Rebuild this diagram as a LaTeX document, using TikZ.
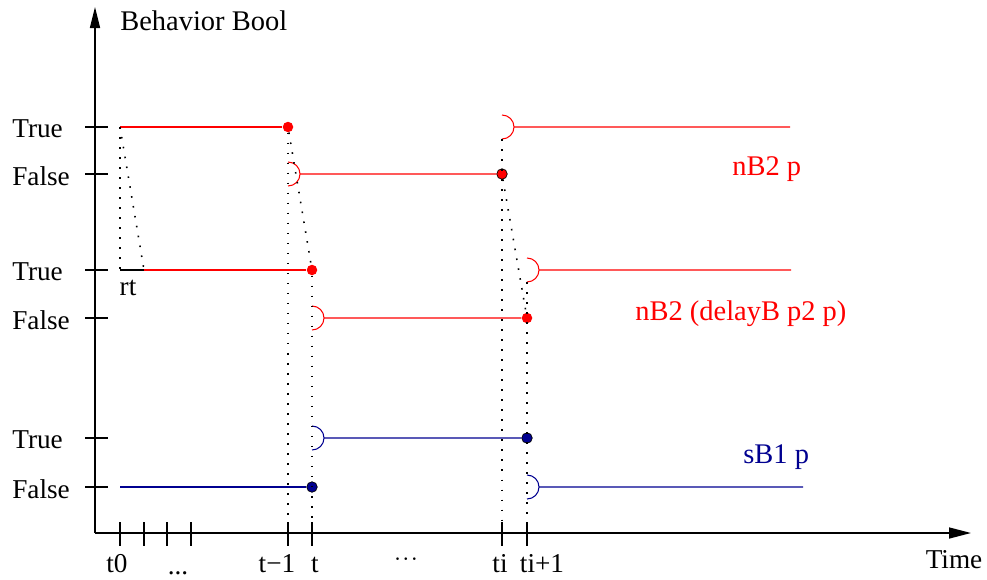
\documentclass[tikz,border=0pt]{standalone}
\usepackage{fontspec}
\setmainfont{Liberation Serif}
\usepackage{tikz}
\usetikzlibrary{shapes,arrows,arrows.meta}
\definecolor{sigred}{RGB}{255,0,0}
\definecolor{sigblue}{RGB}{0,0,144}
\tikzset{
    axisline/.style={line width=0.85pt},
    tickline/.style={line width=0.7pt},
    sig/.style={line width=0.6pt},
    jump/.style={line width=0.9pt, dash pattern=on 0.9pt off 4.8pt},
    fulldot/.style={circle, inner sep=0pt, minimum size=0.21cm},
    lbl/.style={inner sep=0pt, font=\fontsize{15.5}{18}\selectfont},
    signame/.style={inner sep=0pt, font=\fontsize{16.2}{19}\selectfont}
}

\begin{document}
\begin{tikzpicture}[x=0.02cm, y=-0.02cm]
    \useasboundingbox (0,0) rectangle (987,579);
    \coordinate (origin) at (95,533);
    \coordinate (ytop) at (95,7);
    \coordinate (xend) at (971,533);
    \draw[axisline, -{Triangle[length=0.42cm, width=0.2cm]}] (origin) -- (ytop);
    \draw[axisline, -{Triangle[length=0.44cm, width=0.22cm]}] (origin) -- (xend);
    \node[signame, anchor=base west] (ylabel) at (120,30) {Behavior Bool};
    \node[lbl, anchor=base] (xlabel) at (954,568) {Time};

    \foreach \y/\t in {127/True,174/False,270/True,318/False,438/True,487/False} {
        \draw[tickline] (85,\y) -- (108,\y);
        \node[lbl, anchor=west] (v\y) at (12,{\y+2}) {\t};
    }
    \foreach \x in {120,144,167,191,288,312,502,527}
        \draw[tickline] (\x,522) -- (\x,546);
    \node[lbl, anchor=base] (lt0) at (117,572) {t0};
    \node[lbl, anchor=base] (ldots) at (178,574) {...};
    \node[lbl, anchor=base] (ltm) at (277,572) {t−1};
    \node[lbl, anchor=base] (lt) at (315,572) {t};
    \node[lbl] (lcdots) at (406,560) {$\cdot\!\cdot\!\cdot$};
    \node[lbl, anchor=base] (lti) at (500,572) {ti};
    \node[lbl, anchor=base] (ltj) at (542,572) {ti+1};

    \coordinate (ktm) at (288,522);
    \coordinate (kt) at (312,522);
    \coordinate (kti) at (502,522);
    \coordinate (ktj) at (527,522);

    \coordinate (nTa) at (120,127);
    \node[fulldot, fill=sigred] (nTb) at (288,127) {};
    \coordinate (nTo) at (502,139);
    \coordinate (nTc) at (514,127);
    \coordinate (nTd) at (790,127);
    \draw[sig, sigred] (nTa) -- (nTb);
    \draw[sig, sigred] (nTd) -- (nTc) arc[start angle=0, end angle=90, radius=12] (nTc) arc[start angle=0, end angle=-90, radius=12];

    \coordinate (nFa) at (300,174);
    \node[fulldot, fill=sigred, draw=black, line width=0.4pt] (nFb) at (502,174) {};
    \draw[sig, sigred] (nFb) -- (nFa) arc[start angle=0, end angle=90, radius=12] (nFa) arc[start angle=0, end angle=-90, radius=12];

    \coordinate (dTa) at (120,270);
    \coordinate (dTb) at (144,270);
    \node[fulldot, fill=sigred] (dTc) at (312,270) {};
    \coordinate (dTo) at (527,282);
    \coordinate (dTd) at (539,270);
    \coordinate (dTe) at (791,270);
    \draw[sig] (dTa) -- (dTb);
    \draw[sig, sigred] (dTb) -- (dTc);
    \draw[sig, sigred] (dTe) -- (dTd) arc[start angle=0, end angle=90, radius=12] (dTd) arc[start angle=0, end angle=-90, radius=12];
    \node[lbl, anchor=base] (rt) at (128,295) {rt};

    \coordinate (dFa) at (324,318);
    \node[fulldot, fill=sigred] (dFb) at (527,318) {};
    \draw[sig, sigred] (dFb) -- (dFa) arc[start angle=0, end angle=90, radius=12] (dFa) arc[start angle=0, end angle=-90, radius=12];

    \coordinate (sTa) at (324,438);
    \node[fulldot, fill=sigblue, draw=black, line width=0.4pt] (sTb) at (527,438) {};
    \draw[sig, sigblue] (sTb) -- (sTa) arc[start angle=0, end angle=90, radius=12] (sTa) arc[start angle=0, end angle=-90, radius=12];

    \coordinate (sFa) at (120,487);
    \node[fulldot, fill=sigblue, draw=black, line width=0.4pt] (sFb) at (312,487) {};
    \coordinate (sFc) at (539,487);
    \coordinate (sFd) at (803,487);
    \draw[sig, sigblue] (sFa) -- (sFb);
    \draw[sig, sigblue] (sFd) -- (sFc) arc[start angle=0, end angle=90, radius=12] (sFc) arc[start angle=0, end angle=-90, radius=12];

    \draw[jump] (nTa) -- (dTa);
    \draw[jump] (nTa) -- (dTb);
    \draw[jump] (nTb) -- (ktm);
    \draw[jump] (nTb) -- (dTc);
    \draw[jump] (dTc) -- (kt);
    \draw[jump] (nTo) -- (kti);
    \draw[jump] (nFb) -- (dFb);
    \draw[jump] (dTo) -- (ktj);

    \node[signame, text=sigred, anchor=base west] (nB2) at (732,175) {nB2 p};
    \node[signame, text=sigred, anchor=base west] (nB2d) at (635,320) {nB2 (delayB p2 p)};
    \node[signame, text=sigblue, anchor=base west] (sB1) at (743,463) {sB1 p};
\end{tikzpicture}
\end{document}
